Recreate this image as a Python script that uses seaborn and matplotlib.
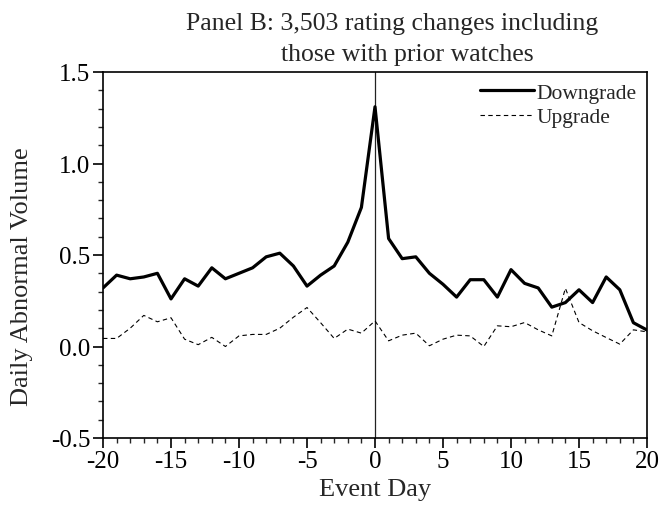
import numpy as np
import pandas as pd
import seaborn as sns
import matplotlib.pyplot as plt
from matplotlib.ticker import MultipleLocator

# event days -20..20
event_day = list(range(-20, 21))

downgrade = [0.32, 0.39, 0.37, 0.38, 0.40, 0.26, 0.37, 0.33, 0.43, 0.37,
             0.40, 0.43, 0.49, 0.51, 0.44, 0.33, 0.39, 0.44, 0.57, 0.76,
             1.31,
             0.59, 0.48, 0.49, 0.40, 0.34, 0.27, 0.365, 0.365, 0.27, 0.42,
             0.345, 0.32, 0.215, 0.24, 0.31, 0.24, 0.38, 0.31, 0.13, 0.09]

upgrade = [0.044, 0.044, 0.10, 0.17, 0.135, 0.157, 0.04, 0.01, 0.05, 0.0,
           0.058, 0.066, 0.066, 0.10, 0.16, 0.213, 0.13, 0.044, 0.095, 0.073,
           0.14,
           0.031, 0.062, 0.073, 0.004, 0.04, 0.062, 0.058, 0.0, 0.113, 0.108,
           0.131, 0.091, 0.058, 0.318, 0.131, 0.086, 0.049, 0.013, 0.091, 0.08]

title_line1 = "Panel B: 3,503 rating changes including"
title_line2 = "those with prior watches"

df = pd.DataFrame({"Event Day": event_day, "Downgrade": downgrade, "Upgrade": upgrade})

sns.set_style("ticks")
plt.rcParams['font.family'] = ['Liberation Serif', 'DejaVu Serif']

fig = plt.figure(figsize=(6.63, 5.06), dpi=100)
ax = fig.add_axes([103 / 663, 1 - 439 / 506, 544 / 663, 366 / 506])

ax.axvline(0, color='#222222', lw=0.9, zorder=1)
sns.lineplot(data=df, x="Event Day", y="Downgrade", ax=ax, color='black',
             lw=2.3, label="Downgrade")
sns.lineplot(data=df, x="Event Day", y="Upgrade", ax=ax, color='black',
             lw=0.8, label="Upgrade")
ax.lines[-1].set_dashes([4, 3])

ax.set_xlim(-20, 20)
ax.set_ylim(-0.5, 1.5)
ax.xaxis.set_major_locator(MultipleLocator(5))
ax.xaxis.set_minor_locator(MultipleLocator(1))
ax.yaxis.set_major_locator(MultipleLocator(0.5))
ax.yaxis.set_minor_locator(MultipleLocator(0.1))
ax.set_xticklabels([f"{int(v)}" for v in ax.get_xticks()])
ax.set_yticklabels([f"{v:.1f}" for v in ax.get_yticks()])
ax.tick_params(which='major', direction='out', length=7, width=1.2,
               labelsize=18, colors='black', pad=2)
ax.tick_params(which='minor', direction='out', length=3.5, width=1.0)
for side in ['top', 'right', 'left', 'bottom']:
    ax.spines[side].set_visible(True)
    ax.spines[side].set_linewidth(1.2)
    ax.spines[side].set_color('black')

ax.set_xlabel("Event Day", fontsize=19, labelpad=4)
ax.set_ylabel("Daily Abnormal Volume", fontsize=19)
ax.yaxis.set_label_coords(-0.128, 0.445)

leg = ax.legend(loc='upper right', frameon=False, fontsize=15.5,
                handlelength=2.5, handletextpad=0.1, borderaxespad=0.1,
                labelspacing=0.2)

fig.text(392 / 663, 1 - 30 / 506, title_line1, ha='center', va='baseline',
         fontsize=18.5)
fig.text(407 / 663, 1 - 61 / 506, title_line2, ha='center', va='baseline',
         fontsize=18.5)

fig.savefig("out.png", dpi=100)
